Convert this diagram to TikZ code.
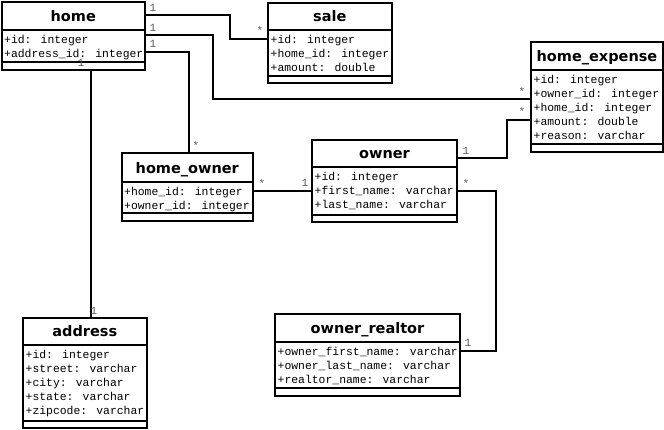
\documentclass[tikz,border=0pt]{standalone}
\usepackage{fontspec}
\newfontfamily\titlefont{DejaVu Sans}
\newfontfamily\monofont{Liberation Mono}
\tikzset{
  x=1pt, y=-1pt,
  classbox/.style={draw, line width=2pt, inner sep=0pt, outer sep=0pt},
  divider/.style={line width=2pt},
  classtitle/.style={font=\titlefont\bfseries\fontsize{14.5}{16}\selectfont, inner sep=0pt, anchor=base},
  attr/.style={font=\monofont\fontsize{11.4}{13}\selectfont, inner sep=0pt, anchor=base west},
  conn/.style={line width=2pt},
  mult/.style={font=\monofont\fontsize{11}{12}\selectfont, text=black!65, inner sep=0pt},
}
% #1 name, #2 x1, #3 y1, #4 x2, #5 y2, #6 title divider, #7 attr divider, #8 title, #9 attrs
\newcommand\umlclass[9]{%
  \node[classbox, anchor=north west, minimum width={(#4-#2)*1pt}, minimum height={(#5-#3)*1pt}] (#1) at (#2,#3) {};
  \draw[divider] (#2,#6) -- (#4,#6);
  \draw[divider] (#2,#7) -- (#4,#7);
  \node[classtitle] (#1-title) at ({(#2+#4)/2},{#6-8.5}) {#8};
  \foreach \a [count=\i] in {#9} {
    \node[attr] (#1-attr-\i) at ({#2+2.5},{#6+13+(\i-1)*14}) {\a};
  }
}
\begin{document}
\begin{tikzpicture}
\useasboundingbox (0,0) rectangle (664,429);
\fill[white] (0,0) rectangle (664,429);

\umlclass{home}{1.5}{1.5}{145}{70}{30}{62}{home}{+id: integer,+address\_id: integer}
\umlclass{sale}{268}{2.5}{391.5}{83}{30}{76}{sale}{+id: integer,+home\_id: integer,+amount: double}
\umlclass{homeexpense}{531}{41.5}{663}{151.5}{70}{144}{home\_expense}{+id: integer,+owner\_id: integer,+home\_id: integer,+amount: double,+reason: varchar}
\umlclass{homeowner}{121.5}{153}{253}{221}{182}{213}{home\_owner}{+home\_id: integer,+owner\_id: integer}
\umlclass{owner}{312}{140}{457}{222}{167}{215}{owner}{+id: integer,+first\_name: varchar,+last\_name: varchar}
\umlclass{address}{23}{318}{146.5}{427.5}{345}{420.5}{address}{+id: integer,+street: varchar,+city: varchar,+state: varchar,+zipcode: varchar}
\umlclass{ownerrealtor}{275}{314}{460}{396}{342}{388}{owner\_realtor}{+owner\_first\_name: varchar,+owner\_last\_name: varchar,+realtor\_name: varchar}

% connectors
\draw[conn] (home.east |- 0,15) -- (230,15) -- (230,39) -- (sale.west |- 0,39);
\draw[conn] (home.east |- 0,35) -- (213,35) -- (213,99) -- (homeexpense.west |- 0,99);
\draw[conn] (home.east |- 0,52) -- (189,52) -- (homeowner.north -| 189,0);
\draw[conn] (home.south -| 91,0) -- (address.north -| 91,0);
\draw[conn] (homeowner.east |- 0,191) -- (owner.west |- 0,191);
\draw[conn] (owner.east |- 0,158) -- (507,158) -- (507,120) -- (homeexpense.west |- 0,120);
\draw[conn] (owner.east |- 0,191) -- (496,191) -- (496,350.5) -- (ownerrealtor.east |- 0,350.5);

% multiplicities
\node[mult] (m1) at (153,8) {1};
\node[mult] (m2) at (153,28) {1};
\node[mult] (m3) at (153,44) {1};
\node[mult] (m4) at (260,31) {*};
\node[mult] (m5) at (196,146) {*};
\node[mult] (m6) at (81,63) {1};
\node[mult] (m7) at (94,311) {1};
\node[mult] (m8) at (262,184) {*};
\node[mult] (m9) at (305,183) {1};
\node[mult] (m10) at (466,151) {1};
\node[mult] (m11) at (466,184) {*};
\node[mult] (m12) at (522,92) {*};
\node[mult] (m13) at (522,112) {*};
\node[mult] (m14) at (468,343) {1};
\end{tikzpicture}
\end{document}
